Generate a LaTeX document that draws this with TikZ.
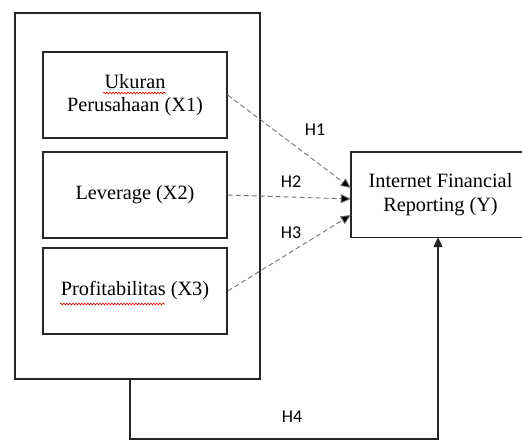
\documentclass[tikz,border=0pt]{standalone}
\usepackage{fontspec}
\setmainfont{Liberation Serif}
\newfontfamily\hfont{Carlito}
\usetikzlibrary{arrows.meta,decorations.pathmorphing,calc}
\begin{document}
\begin{tikzpicture}[x=1pt,y=-1pt,
  box/.style={draw=black!85, line width=1.4pt, inner sep=0pt, align=center,
    font=\fontsize{20.3}{23.5}\selectfont},
  dasharrow/.style={draw=black!55, line width=0.9pt, dash pattern=on 5pt off 3pt,
    -{Triangle[length=10pt,width=9pt,fill=black]}},
  solidline/.style={draw=black!85, line width=1.3pt},
  hlabel/.style={font=\hfont\fontsize{18}{20}\selectfont, inner sep=0pt},
  squiggle/.style={draw=red!85!black, line width=0.6pt,
    decorate, decoration={snake, amplitude=0.9pt, segment length=3pt}}]
\useasboundingbox (0,0) rectangle (522,440);
% outer group box
\node[box, minimum width=245pt, minimum height=366pt] (outer) at (137.5,196) {};
% independent variables
\node[box, minimum width=184pt, minimum height=86pt] (x1) at (135,95) {Ukuran\\Perusahaan (X1)};
\node[box, minimum width=184pt, minimum height=86pt] (x2) at (135,195) {Leverage (X2)};
\node[box, minimum width=184pt, minimum height=86pt] (x3) at (135,291) {Profitabilitas (X3)};
% dependent variable (right edge lies beyond the picture)
\node[align=center, inner sep=0pt, font=\fontsize{20.3}{23.5}\selectfont, minimum width=179pt, minimum height=85pt] (y) at (440.5,194.5) {Internet Financial\\Reporting (Y)};
\draw[draw=black!85, line width=1.4pt] (y.north east) -- (y.north west) -- (y.south west) -- (y.south east);
% spell-check underlines
\draw[squiggle] (103,93) -- (166,93);
\draw[squiggle] (60,304) -- (165,304);
% hypotheses arrows
\draw[dasharrow] (x1.east) -- ($(y.west)+(0,-6.5)$);
\draw[dasharrow] (x2.east) -- ($(y.west)+(0,4.5)$);
\draw[dasharrow] (x3.east) -- ($(y.west)+(0,20.5)$);
\coordinate (c1) at (130,439);
\coordinate (c2) at (438,439);
\draw[solidline, -{Triangle[length=10pt,width=9pt]}] (outer.south -| c1) -- (c1) -- (c2) -- (c2 |- y.south);
% labels
\node[hlabel] (h1) at (315,130) {H1};
\node[hlabel] (h2) at (291,182) {H2};
\node[hlabel] (h3) at (291,233) {H3};
\node[hlabel] (h4) at (292,417) {H4};
\end{tikzpicture}
\end{document}
